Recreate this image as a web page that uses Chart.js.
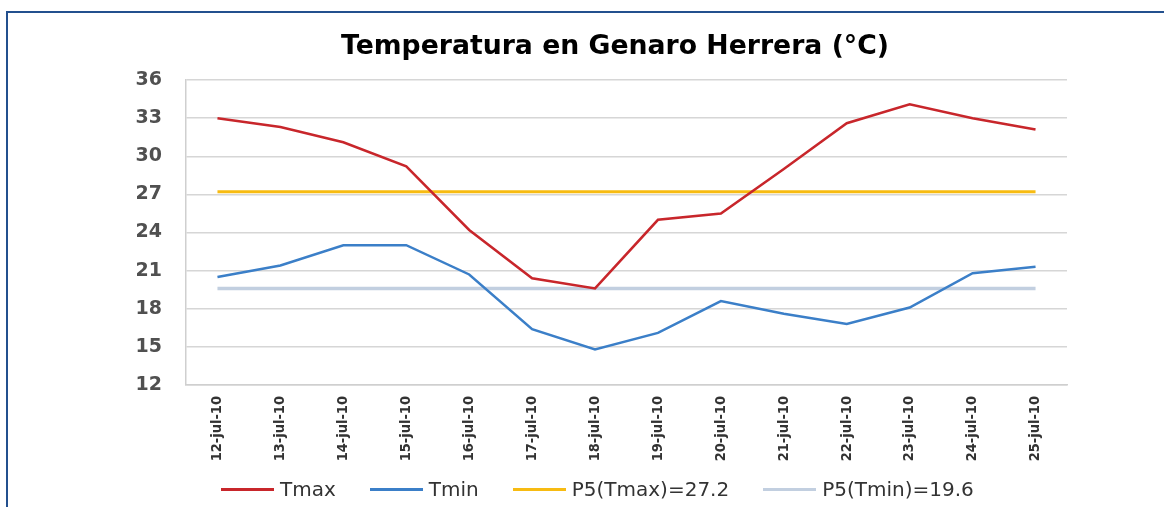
<!DOCTYPE html>
<html>
<head>
<meta charset="utf-8">
<title>Temperatura en Genaro Herrera</title>
<script src="https://cdn.jsdelivr.net/npm/chart.js@4.4.0/dist/chart.umd.min.js"></script>
<style>
  body { margin: 0; background: #fff; }
  #wrap { position: relative; width: 1164px; height: 507px; overflow: hidden; background: #fff; }
  #frame { position: absolute; left: 6px; top: 11px; width: 1300px; height: 700px; border: 2px solid #23508e; }
  #chartCanvas { position: absolute; left: 0; top: 0; }
  #legend { position: absolute; left: 221px; top: 476px; display: flex; align-items: center;
            font-family: "DejaVu Sans", sans-serif; font-size: 20px; color: #333; }
  #legend .item { display: flex; align-items: center; margin-right: 34px; line-height: 26px; }
  #legend .swatch { width: 53px; height: 3px; margin-right: 6px; }
</style>
</head>
<body>
<div id="wrap">
  <div id="frame"></div>
  <canvas id="chartCanvas" width="1164" height="507"></canvas>
  <div id="legend"></div>
</div>
<script>
const labels = ["12-jul-10", "13-jul-10", "14-jul-10", "15-jul-10", "16-jul-10", "17-jul-10", "18-jul-10",
                "19-jul-10", "20-jul-10", "21-jul-10", "22-jul-10", "23-jul-10", "24-jul-10", "25-jul-10"];
const tmax = [33.0, 32.3, 31.1, 29.2, 24.2, 20.4, 19.6, 25.0, 25.5, 29.0, 32.6, 34.1, 33.0, 32.1];
const tmin = [20.5, 21.4, 23.0, 23.0, 20.7, 16.4, 14.8, 16.1, 18.6, 17.6, 16.8, 18.1, 20.8, 21.3];
const p5Tmax = [27.2, 27.2, 27.2, 27.2, 27.2, 27.2, 27.2, 27.2, 27.2, 27.2, 27.2, 27.2, 27.2, 27.2];
const p5Tmin = [19.6, 19.6, 19.6, 19.6, 19.6, 19.6, 19.6, 19.6, 19.6, 19.6, 19.6, 19.6, 19.6, 19.6];
const yMin = 12, yMax = 36, yStep = 3;

const canvas = document.getElementById("chartCanvas");

const datasets = [
  { label: "Tmax", data: tmax, borderColor: "#c8262b", borderWidth: 2.5 },
  { label: "Tmin", data: tmin, borderColor: "#3b7fc8", borderWidth: 2.5 },
  { label: "P5(Tmax)=27.2", data: p5Tmax, borderColor: "#f7bb12", borderWidth: 3 },
  { label: "P5(Tmin)=19.6", data: p5Tmin, borderColor: "#c2cfe0", borderWidth: 3.5 }
].map(d => ({ ...d, pointRadius: 0, tension: 0, fill: false, order: d.label.startsWith("P5") ? 2 : 1 }));

// el titulo del original no esta centrado sobre el canvas, lo corro a mano
const titleCenterX = 615;
const titleShift = {
  id: "titleShift",
  afterLayout(chart) {
    const t = chart.titleBlock;
    const half = (t.right - t.left) / 2;
    t.left = titleCenterX - half;
    t.right = titleCenterX + half;
  }
};

const chart = new Chart(canvas, {
  type: "line",
  data: { labels, datasets },
  plugins: [titleShift],
  options: {
    responsive: false,
    animation: false,
    layout: { padding: { left: 0, right: 97, top: 0, bottom: 37 } },
    plugins: {
      legend: { display: false },
      tooltip: { enabled: false },
      title: {
        display: true,
        text: "Temperatura en Genaro Herrera (°C)",
        color: "#000",
        font: { family: "DejaVu Sans", size: 26.7, weight: "bold" },
        padding: { top: 31, bottom: 17 }
      }
    },
    scales: {
      x: {
        offset: true,
        grid: { display: false, drawTicks: false },
        border: { display: true, color: "#cfcfcf", width: 1.5 },
        ticks: {
          autoSkip: false, maxRotation: 90, minRotation: 90, padding: 11,
          color: "#333",
          font: { family: "DejaVu Sans Condensed", size: 14.5, weight: "bold" }
        },
        afterFit: s => { s.height = 85; }
      },
      y: {
        min: yMin, max: yMax,
        grid: { color: "#d6d6d6", lineWidth: 1.5, drawTicks: false },
        border: { display: true, color: "#cfcfcf", width: 1.5 },
        ticks: {
          stepSize: yStep, padding: 24,
          color: "#505050",
          font: { family: "DejaVu Sans", size: 19, weight: "bold" }
        },
        afterFit: s => { s.width = 186; }
      }
    }
  }
});

// leyenda en HTML, armada desde los datasets
const legendBox = document.getElementById("legend");
chart.data.datasets.forEach(ds => {
  const item = document.createElement("div");
  item.className = "item";
  const sw = document.createElement("span");
  sw.className = "swatch";
  sw.style.background = ds.borderColor;
  const txt = document.createElement("span");
  txt.textContent = ds.label;
  item.appendChild(sw);
  item.appendChild(txt);
  legendBox.appendChild(item);
});
</script>
</body>
</html>
